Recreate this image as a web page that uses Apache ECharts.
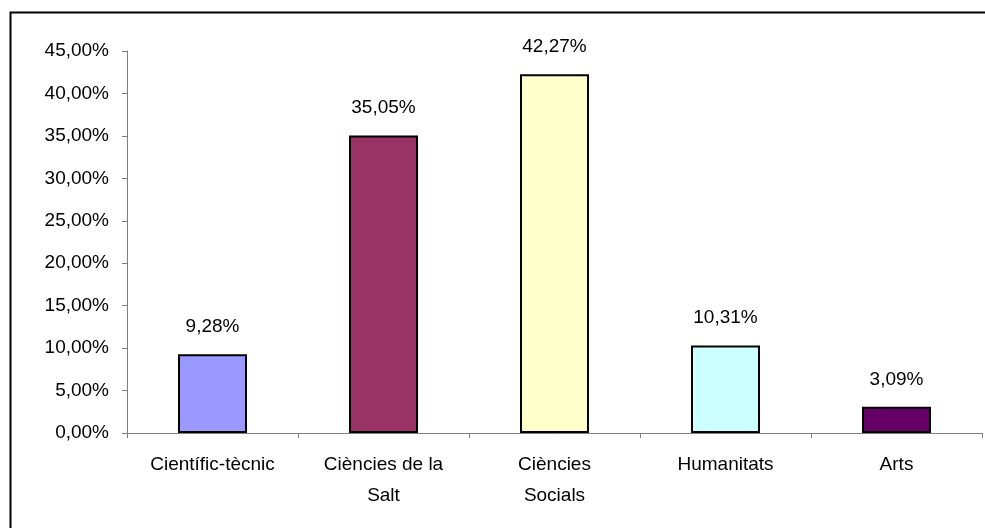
<!DOCTYPE html>
<html>
<head>
<meta charset="utf-8">
<style>
html,body{margin:0;padding:0;background:#fff;}
#chart{width:985px;height:528px;}
</style>
<script src="https://cdn.jsdelivr.net/npm/echarts@6/dist/echarts.min.js"></script>
</head>
<body>
<div id="chart"></div>
<script>
var categories = ['Científic-tècnic', 'Ciències de la\nSalt', 'Ciències\nSocials', 'Humanitats', 'Arts'];
var values = [9.28, 35.05, 42.27, 10.31, 3.09];
var colors = ['#9999FF', '#993366', '#FFFFCC', '#CCFFFF', '#660066'];

function pct(v){ return v.toFixed(2).replace('.', ',') + '%'; }

var FONT = 'Liberation Sans, Arial, sans-serif';
var chart = echarts.init(document.getElementById('chart'), null, {renderer:'canvas'});
chart.setOption({
  animation: false,
  textStyle: {fontFamily: FONT},
  graphic: [{
    type: 'rect', left: 8, top: 10, silent: true,
    shape: {width: 1000, height: 600},
    style: {fill: 'none', stroke: '#000', lineWidth: 2}
  }],
  grid: {left: 127, right: 3, top: 51, bottom: 95, containLabel: false},
  xAxis: {
    type: 'category',
    data: categories,
    axisLine: {lineStyle: {color: '#808080', width: 1}},
    axisTick: {show: true, alignWithLabel: false, length: 5, inside: false, lineStyle: {color: '#808080'}},
    axisLabel: {color: '#000', fontSize: 19, margin: 16, lineHeight: 31, interval: 0, fontFamily: FONT}
  },
  yAxis: {
    type: 'value',
    min: 0, max: 45, interval: 5,
    axisLine: {show: true, lineStyle: {color: '#808080', width: 1}},
    axisTick: {show: true, length: 5, lineStyle: {color: '#808080'}},
    splitLine: {show: false},
    axisLabel: {color: '#000', fontSize: 19, margin: 18, formatter: function(v){ return pct(v); }, fontFamily: FONT}
  },
  series: [{
    type: 'bar',
    data: values.map(function(v, i){ return {value: v, itemStyle: {color: colors[i]}}; }),
    barWidth: 69,
    itemStyle: {borderColor: '#000', borderWidth: 2},
    label: {
      show: true, position: 'top', distance: 18, color: '#000', fontSize: 19,
      fontFamily: FONT,
      formatter: function(p){ return pct(p.value); }
    }
  }]
});
</script>
</body>
</html>
